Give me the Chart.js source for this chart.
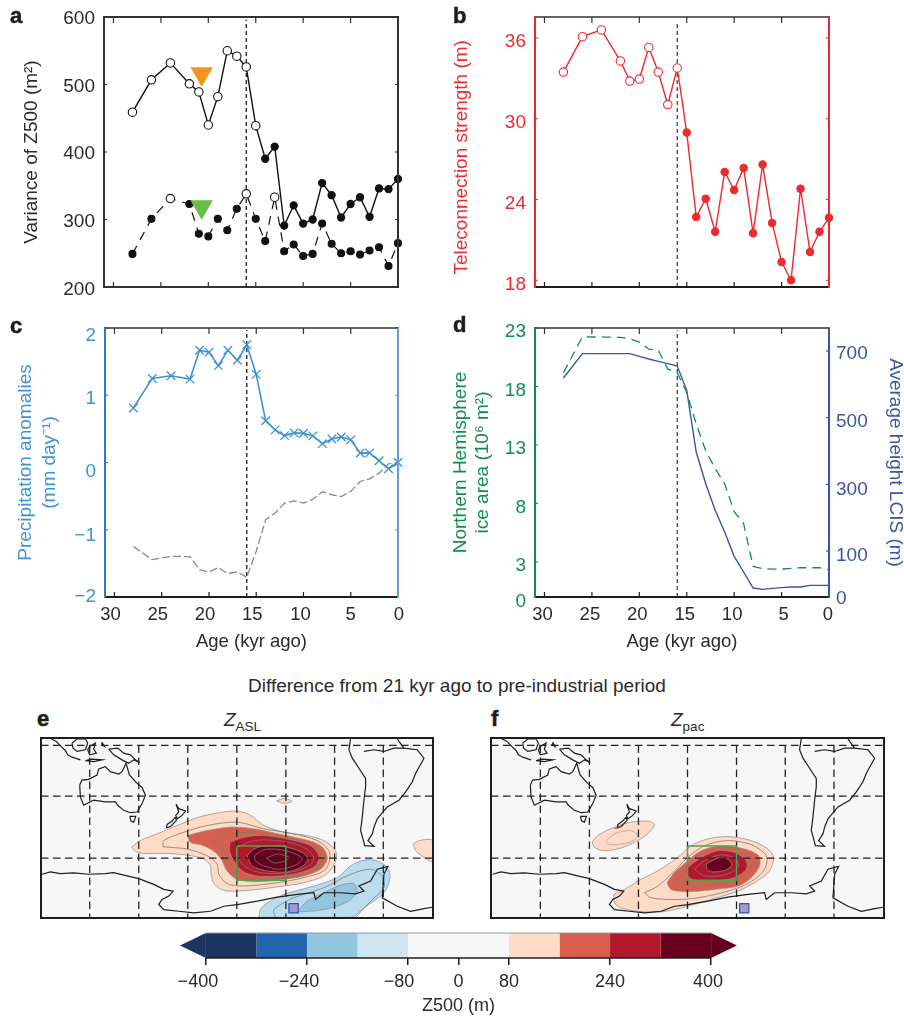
<!DOCTYPE html>
<html><head><meta charset="utf-8">
<script src="https://cdn.jsdelivr.net/npm/chart.js@4/dist/chart.umd.min.js"></script>
<style>
html,body{margin:0;padding:0;background:#fff;width:904px;height:1017px;overflow:hidden;font-family:"Liberation Sans",Arial,sans-serif;color:#2b2a29}
canvas{position:absolute;display:block}
.t{position:absolute;white-space:nowrap;line-height:1}
.l{font-weight:bold;font-size:22px;color:#1d1d1b;-webkit-text-stroke:.5px #1d1d1b}
sub{font-size:13.5px;vertical-align:-5px;line-height:0;font-style:normal}
</style></head><body>
<canvas id="a" width="452" height="315" style="left:0;top:-5px"></canvas>
<canvas id="b" width="464" height="315" style="left:440px;top:-5px"></canvas>
<canvas id="c" width="452" height="354" style="left:0;top:306px"></canvas>
<canvas id="d" width="474" height="354" style="left:440px;top:306px"></canvas>
<canvas id="e" width="396" height="184" style="left:39px;top:736px"></canvas>
<canvas id="f" width="397" height="184" style="left:489px;top:736px"></canvas>
<canvas id="cb" width="620" height="92" style="left:150px;top:925px"></canvas>
<div class="t l" style="left:10px;top:5px">a</div>
<div class="t l" style="left:453px;top:5px">b</div>
<div class="t l" style="left:10px;top:315px">c</div>
<div class="t l" style="left:453px;top:314px">d</div>
<div class="t l" style="left:37px;top:708px">e</div>
<div class="t l" style="left:491px;top:708px">f</div>
<div class="t" id="head" style="left:248px;top:676px;font-size:19px">Difference from 21 kyr ago to pre-industrial period</div>
<div class="t" style="left:224px;top:710px;font-size:19px"><i>Z</i><sub>ASL</sub></div>
<div class="t" style="left:671px;top:710px;font-size:19px"><i>Z</i><sub>pac</sub></div>
<script>
// ---------- time-series values ----------
const ages=[28,26,24,22,21,20,19,18,17,16,15,14,13,12,11,10,9,8,7,6,5,4,3,2,1,0];
const ageTicks=[30,25,20,15,10,5,0];
const eventAge=16;
const varAsl=[459,507,532,501,489,440,482,550,542,526,439,390,408,291,321,294,300,354,336,303,323,333,304,346,345,360];
const varPac=[249,301,331,323,279,275,301,284,316,338,301,268,333,253,263,246,249,294,264,250,253,248,254,259,231,265];
const varAslOpen=[1,1,1,1,1,1,1,1,1,1,1,0,0,0,0,0,0,0,0,0,0,0,0,0,0,0];
const varPacOpen=[0,0,1,0,0,0,0,0,0,1,0,0,1,0,0,0,0,0,0,0,0,0,0,0,0,0];
const markerAge=[20.7];
const markerAsl=[516];
const markerPac=[319];
const telecon=[33.47,36.1,36.6,34.3,32.8,32.95,35.3,33.47,31.05,33.77,28.97,22.7,24.06,21.6,26.05,24.7,26.35,21.5,26.6,22.26,19.36,18,24.8,20.1,21.6,22.65];
const teleconOpen=[1,1,1,1,1,1,1,1,1,1,0,0,0,0,0,0,0,0,0,0,0,0,0,0,0,0];
const precip=[.81,1.25,1.29,1.24,1.67,1.64,1.44,1.67,1.52,1.75,1.31,.62,.485,.40,.44,.435,.396,.28,.35,.38,.337,.14,.143,.025,-.094,0];
const precipGray=[-1.25,-1.445,-1.396,-1.40,-1.594,-1.63,-1.56,-1.654,-1.624,-1.708,-1.32,-.85,-.752,-.604,-.57,-.604,-.545,-.436,-.48,-.505,-.43,-.282,-.243,-.158,-.02,0];
const iceArea=[19.17,22.25,22.2,22.08,21.8,21.2,21.08,19.5,19.17,17.5,14.8,12.5,10.97,9.69,7.3,6.27,2.62,2.42,2.39,2.39,2.45,2.5,2.5,2.5,2.34];
const iceAges=[28,26,22,21,20,19,18,17,16,15,14,13,12,11,10,9,8,7,6,5,4,3,2,1,0];
const lcis=[619,692,692,692,692,684,676,669,662,655,582,397,302,222,157,84,37,-11,-15,-12,-10,-8,-8,-3,-3,-3];
const ticksA=[600,500,400,300,200];
const ticksB=[36,30,24,18];
const ticksC=[2,1,0,-1,-2];
const ticksD=[23,18,13,8,3,0];
const ticksD2=[700,500,300,100,0];

// ---------- colour bar ----------
const cbEdges=[-400,-320,-240,-160,-80,80,160,240,320,400];
const cbColors=['#1b3460','#2166ac','#92c5de','#d1e5f0','#f7f7f7','#fddbc7','#d6604d','#b2182b','#67001f'];
const cbTicks=[-400,-240,-80,0,80,240,400];

// ---------- maps (digitised map units) ----------
const mapGridX=[178,325,472,619,766,912,1058];
const mapGridY=[137,288,472];
const coastSumatra=[[62,117],[78,125],[92,140],[105,152],[112,165],[125,172],[150,180]];
const coastBorneo=[[125,130],[140,118],[165,118],[172,130],[165,150],[140,155],[128,145],[125,130]];
const coastSulawesi=[[178,140],[195,130],[190,148],[198,160],[178,165],[172,150],[178,140]];
const coastJava=[[165,182],[185,178],[215,180],[190,185],[165,182]];
const coastMoluccas=[[215,128],[222,140],[214,135],[215,128]];
const coastGuinea=[[235,148],[262,145],[280,160],[300,165],[315,180],[328,188],[310,180],[295,190],[275,180],[250,165],[235,148]];
const coastAustralia=[[148,255],[155,240],[175,238],[200,225],[205,207],[225,200],[240,215],[265,222],[275,215],[287,190],[297,225],[320,250],[335,262],[345,285],[335,310],[320,335],[300,337],[280,330],[262,315],[255,305],[225,305],[190,300],[160,315],[150,290],[148,255]];
const coastTasmania=[[298,348],[316,348],[310,365],[302,362],[298,348]];
const coastNZNorth=[[437,312],[445,325],[465,332],[455,345],[440,355],[436,345],[445,335],[437,312]];
const coastNZSouth=[[435,350],[438,360],[420,378],[408,382],[410,372],[425,362],[435,350]];
const coastSouthAm=[[960,117],[955,150],[965,175],[985,205],[1005,235],[1005,260],[1000,300],[995,350],[990,390],[1000,425],[1002,435],[1030,437],[1012,420],[1025,400],[1030,380],[1040,355],[1070,320],[1105,300],[1125,275],[1145,245],[1155,220],[1180,175],[1160,150],[1120,145],[1105,125],[1100,117]];
const coastAmazon=[[1000,155],[1030,150],[1060,155],[1090,145],[1120,145]];
const coastAntarctica=[[35,520],[60,513],[90,518],[130,516],[175,520],[225,518],[250,515],[290,525],[325,533],[370,550],[400,565],[428,570],[415,585],[395,595],[385,610],[400,625],[445,630],[490,635],[540,630],[580,615],[620,610],[680,600],[740,588],[800,580],[850,575],[855,595],[880,575],[930,575],[975,578],[1000,570],[985,555],[1020,540],[1040,505],[1072,497],[1060,520],[1055,590],[1100,615],[1140,630],[1180,622],[1205,618]];
const coasts=[coastSumatra,coastBorneo,coastSulawesi,coastJava,coastMoluccas,coastGuinea,coastAustralia,coastTasmania,coastNZNorth,coastNZSouth,coastSouthAm,coastAmazon,coastAntarctica];

const eBand1=[[303,440],[330,420],[380,400],[440,375],[500,352],[560,338],[620,332],[660,345],[700,375],[760,395],[830,405],[880,420],[912,445],[918,470],[905,500],[880,525],[820,545],[760,555],[680,565],[620,570],[580,568],[552,550],[542,520],[540,495],[520,475],[470,463],[400,458],[340,458],[315,452],[303,440]];
const eBand2=[[472,405],[520,392],[600,380],[670,385],[720,395],[790,410],[850,425],[880,445],[890,475],[870,505],[820,525],[760,535],[680,542],[620,535],[590,510],[575,480],[555,455],[520,435],[480,425],[472,405]];
const eBand3=[[598,425],[640,410],[700,405],[770,415],[840,435],[865,465],[855,495],[810,515],[750,525],[680,525],[635,510],[610,480],[597,450],[598,425]];
const eBand4=[[650,465],[670,445],[710,435],[770,440],[815,455],[832,475],[815,497],[770,513],[710,510],[665,495],[650,465]];
const eRing1=[[398,438],[400,420],[460,395],[530,375],[620,365],[700,385],[790,400],[860,420],[895,450],[897,480],[880,510],[820,530],[740,545],[640,555],[590,548],[565,520],[560,490],[530,465],[470,445],[420,440],[398,438]];
const eRing2=[[545,422],[580,405],[650,395],[720,405],[800,420],[860,445],[875,475],[855,505],[800,525],[720,535],[660,535],[620,520],[600,490],[585,460],[560,435],[545,422]];
const eRing3=[[620,440],[670,420],[740,420],[810,435],[848,465],[840,492],[790,512],[720,518],[670,510],[635,490],[620,460],[620,440]];
const eRing4=[[672,465],[700,447],[750,447],[800,462],[815,476],[790,495],[745,505],[700,495],[675,480],[672,465]];
const eRing5=[[708,472],[740,460],[775,470],[760,482],[730,486],[708,472]];
const ePatchTop=[[738,302],[760,295],[785,303],[760,309],[738,302]];
const ePatchRight=[[1148,430],[1165,420],[1206,420],[1206,482],[1180,470],[1155,450],[1148,430]];
const eBlue1=[[685,648],[690,625],[710,605],[760,580],[850,555],[920,530],[960,495],[1000,478],[1040,480],[1070,500],[1078,530],[1060,575],[1000,620],[960,648],[685,648]];
const eBlue2=[[800,632],[830,600],[880,575],[930,552],[970,548],[980,570],[960,595],[920,615],[860,628],[800,632]];
const eBlueRing=[[735,648],[730,625],[790,590],[880,560],[960,520],[1020,505],[1055,525],[1060,560],[1020,600],[975,648]];

const fBand1=[[398,580],[430,565],[480,535],[530,510],[590,470],[630,435],[680,415],[740,408],[810,420],[860,445],[877,470],[865,510],[820,545],[770,570],[700,592],[620,615],[540,632],[470,630],[420,620],[400,605],[398,580]];
const fBand2=[[558,545],[580,515],[620,480],[660,450],[720,435],[790,445],[832,465],[835,495],[810,530],[770,555],[700,565],[620,572],[570,565],[558,545]];
const fBand3=[[620,500],[660,470],[710,450],[760,455],[795,480],[795,505],[760,530],[700,540],[640,538],[620,525],[620,500]];
const fBand4=[[675,490],[710,472],[735,473],[752,490],[735,507],[695,513],[678,505],[675,490]];
const fRing1=[[490,575],[530,555],[570,520],[620,470],[670,435],[740,420],[810,432],[855,465],[850,505],[805,545],[740,570],[650,590],[580,595],[510,590],[490,575]];
const fRing2=[[585,540],[620,500],[670,465],[730,450],[780,460],[815,480],[800,515],[760,540],[690,552],[620,555],[585,540]];
const fRing3=[[640,505],[670,480],[720,462],[765,475],[770,500],[730,522],[670,525],[640,505]];
const fNZ=[[333,425],[350,405],[400,380],[450,365],[500,362],[520,372],[505,395],[470,420],[420,442],[370,450],[340,440],[333,425]];
const fNZRing=[[375,420],[400,400],[440,390],[462,395],[468,410],[445,425],[405,432],[380,430],[375,420]];
const targetBox=[[619,436],[766,436],[766,538],[619,538],[619,436]];
const lcisSiteBox=[[775,607],[803,607],[803,635],[775,635],[775,607]];

// ---------- styles ----------
const FONT='"Liberation Sans",Arial,sans-serif';
const INK='#2b2a29', RED='#ee2a2e', BLUE='#3f92d2', GREEN='#0f8f4e', NAVY='#3b55a5';
const TICKPX=19, TITLEPX=19, AGEPX=18.5;
Chart.defaults.font.family=FONT;
Chart.defaults.animation=false;

const framePlugin={id:'frame',
  beforeDraw(chart,args,o){
    for(const [id,shift] of Object.entries(o.shifts||{})){
      const s=chart.scales[id]; if(!s) continue;
      s.getLabelItems(chart.chartArea).forEach((it,i)=>{
        if(it._m) return; it._m=1;
        it.options.translation[0]+=shift[0][i]||0;
        it.options.translation[1]+=shift[1][i]||0;
      });
    }
  },
  afterDraw(chart,args,o){
    if(!o.left) return;
    const {left,right,top,bottom}=chart.chartArea, c=chart.ctx;
    const seg=(x0,y0,x1,y1,col,w)=>{c.strokeStyle=col;c.lineWidth=w;c.beginPath();c.moveTo(x0,y0);c.lineTo(x1,y1);c.stroke();};
    c.save();
    chart.scales.x.ticks.forEach(t=>{const p=chart.scales.x.getPixelForValue(t.value);
      seg(p,top,p,top+6,o.top,1.2);seg(p,bottom,p,bottom-5,o.bottom,1.2);});
    chart.scales.y.ticks.forEach(t=>{const p=chart.scales.y.getPixelForValue(t.value);
      seg(left,p,left+3,p,o.left,1.1); if(!chart.scales.y2) seg(right,p,right-3,p,o.right,1.1);});
    if(chart.scales.y2) chart.scales.y2.ticks.forEach(t=>{ if(t.value===0) return; const p=chart.scales.y2.getPixelForValue(t.value);
      seg(right,p,right-3,p,o.right,1.2);});
    seg(left-1,top,right+1,top,o.top,o.topW||1.6);
    seg(left-1,bottom,right+1,bottom,o.bottom,2);
    seg(left,top,left,bottom+1,o.left,2);
    seg(right,top,right,bottom+1,o.right,2);
    c.restore();
  }
};
const mapFrame={id:'mapFrame',afterDraw(chart){
  const {left,right,top,bottom}=chart.chartArea,c=chart.ctx;
  c.save();c.strokeStyle='#1d1d1b';c.lineWidth=2;c.strokeRect(left,top,right-left,bottom-top);c.restore();}};

const pts=(xs,ys)=>xs.map((x,i)=>({x,y:ys[i]}));
function yScale(list,range,width,color,title,pos){
  return {type:'linear',position:pos||'left',min:range[0],max:range[1],
    afterBuildTicks:s=>{s.ticks=list.map(v=>({value:v}));},
    afterFit:s=>{s.width=width;},
    grid:{display:false,drawTicks:false},border:{display:false},
    ticks:{autoSkip:false,padding:pos==='right'?7:9,color,font:{size:TICKPX},callback:v=>String(v).replace('-','\u2212')},
    title};
}
function xScale(height,labels){
  return {type:'linear',min:0,max:31,reverse:true,
    afterBuildTicks:s=>{s.ticks=ageTicks.map(v=>({value:v}));},
    afterFit:s=>{s.height=height;},
    grid:{display:false,drawTicks:false},border:{display:false},
    ticks:{display:labels,autoSkip:false,maxRotation:0,padding:7,color:INK,font:{size:AGEPX}},
    title:{display:labels,text:'Age (kyr ago)',color:INK,font:{size:AGEPX},padding:{top:0,bottom:7}}};
}
const eventLine=(lo,hi,col)=>({data:pts([eventAge,eventAge],[lo,hi]),borderColor:col||'#1d1d1b',borderWidth:1.3,borderDash:[4,3],pointRadius:0,showLine:true});
function panel(id,pad,scales,datasets,frame){
  new Chart(document.getElementById(id),{type:'scatter',data:{datasets},
    options:{responsive:false,animation:false,devicePixelRatio:1,layout:{padding:pad},scales,
      plugins:{legend:{display:false},tooltip:{enabled:false},frame}},
    plugins:[framePlugin]});
}
const seriesStyle=(col,w,open,ro,rf)=>({borderColor:col,borderWidth:w,showLine:true,pointRadius:open.map(f=>f?ro:rf),pointBorderColor:col,pointBorderWidth:1.1,
  pointBackgroundColor:open.map(f=>f?'#fff':col),clip:false});

// panel a
panel('a',{left:0,right:54,top:22,bottom:0},
 {x:xScale(23,false),y:yScale(ticksA,[200,600],104,INK,{display:true,text:'Variance of Z500 (m\u00b2)',color:INK,font:{size:TITLEPX},padding:{top:20}})},
 [
  {data:pts(markerAge,markerAsl),showLine:false,pointStyle:'triangle',pointRotation:180,pointRadius:13,pointBackgroundColor:'#f7941e',pointBorderWidth:0},
  {data:pts(markerAge,markerPac),showLine:false,pointStyle:'triangle',pointRotation:180,pointRadius:13,pointBackgroundColor:'#6abd45',pointBorderWidth:0},
  {data:pts(ages,varAsl),...seriesStyle('#111',1.4,varAslOpen,4.2,3.6)},
  {data:pts(ages,varPac),...seriesStyle('#111',1.2,varPacOpen,4.2,3.5),borderDash:[9,7]},
  eventLine(200,596)
 ],{left:'#333',right:'#333',top:'#333',bottom:'#333',topW:2,
    shifts:{y:[[0,0,0,0,0],[2,2,2,2,3]]}});

// panel b
panel('b',{left:0,right:75,top:22,bottom:0},
 {x:xScale(23,false),y:yScale(ticksB,[17.5,37.56],95,RED,{display:true,text:'Teleconnection strength (m)\u00a0\u00a0',color:RED,font:{size:TITLEPX},padding:{top:10}})},
 [
  {data:pts(ages,telecon),...seriesStyle(RED,1.4,teleconOpen,4.2,3.7)},
  eventLine(17.5,37.2,'#444')
 ],{left:RED,right:RED,top:'#333',bottom:'#1d1d1b',topW:1.4,
    shifts:{y:[[0,0,0,0],[4,4,4,4]]}});

// panel c
panel('c',{left:0,right:54,top:22,bottom:0},
 {x:xScale(63,true),y:yScale(ticksC,[-2,2],105,BLUE,{display:true,text:['Precipitation anomalies','(mm day\u207b\u00b9)'],color:BLUE,font:{size:TITLEPX,lineHeight:1.26},padding:{top:14}})},
 [
  {data:pts(ages,precip),...seriesStyle(BLUE,1.6,ages.map(()=>0),6,6),pointStyle:'crossRot',pointBorderWidth:1.3},
  {data:pts(ages,precipGray),borderColor:'#8a8a8a',borderWidth:1.3,borderDash:[8,3],pointRadius:0,showLine:true},
  eventLine(-2,1.97)
 ],{left:'#2b7cc0',right:'#629fd8',top:'#333',bottom:'#1d1d1b',
    shifts:{x:[[-4,-4,-4,-4,-3,0,1],[0,0,0,0,0,0,0]],y:[[0,0,0,0,0],[8,4,9,6,0]]}});

// panel d
panel('d',{left:0,right:0,top:22,bottom:0},
 {x:xScale(63,true),
  y:yScale(ticksD,[0,23],95,GREEN,{display:true,text:['Northern Hemisphere','ice area (10\u2076 m\u00b2)'],color:GREEN,font:{size:TITLEPX,lineHeight:1.19},padding:{top:9}}),
  y2:yScale(ticksD2,[-38,769],85,NAVY,{display:true,text:'Average height LCIS (m)',color:NAVY,font:{size:TITLEPX},padding:{top:7}},'right')},
 [
  {data:pts(iceAges,iceArea),borderColor:GREEN,borderWidth:1.3,borderDash:[9,6],pointRadius:0,showLine:true,yAxisID:'y'},
  {data:pts(ages,lcis),borderColor:NAVY,borderWidth:1.4,pointRadius:0,showLine:true,yAxisID:'y2'},
  eventLine(0,22.8,'#444')
 ],{left:GREEN,right:NAVY,top:'#333',bottom:'#1d1d1b',
    shifts:{x:[[-2,-2,-2,-2,-2,2,-1],[0,0,0,0,0,0,0]],y:[[0,0,0,0,0,0],[4,4,4,4,4,5]],y2:[[0,0,0,0,0],[3,4,5,5,14]]}});

// maps
const CONTOUR='rgba(130,120,115,.8)';
const P=a=>a.map(([x,y])=>({x,y}));
const shape=(a,fill)=>({data:P(a),showLine:true,pointRadius:0,fill:'shape',backgroundColor:fill,borderColor:'rgba(150,140,135,.75)',borderWidth:1,tension:.3});
const ring=(a,col)=>({data:P(a),showLine:true,pointRadius:0,fill:false,borderColor:col||CONTOUR,borderWidth:1,tension:.3});
const coastDs=()=>coasts.map(a=>({data:P(a),showLine:true,pointRadius:0,fill:false,borderColor:'#1d1d1b',borderWidth:1.2,tension:0}));
const gridDs=(lo,hi)=>[
  ...mapGridX.map(x=>({data:P([[x,137],[x,650]]),showLine:true,pointRadius:0,borderColor:'#222',borderWidth:1.3,borderDash:[7.5,4.5]})),
  ...mapGridY.map(y=>({data:P([[lo,y],[hi,y]]),showLine:true,pointRadius:0,borderColor:'#222',borderWidth:1.3,borderDash:[7.5,4.5]}))];
const boxes=()=>[
  {data:P(targetBox),showLine:true,pointRadius:0,borderColor:'#55a24c',borderWidth:1.5},
  {data:P(lcisSiteBox),showLine:true,pointRadius:0,fill:'shape',backgroundColor:'#9a9ad5',borderColor:'#3a4fb0',borderWidth:1.2}];
function mapChart(id,xr,ds){
  new Chart(document.getElementById(id),{type:'scatter',
    data:{datasets:[...boxes(),...coastDs(),...gridDs(xr[0],xr[1]),...ds,
      {data:P([[xr[0],115],[xr[1],115],[xr[1],650],[xr[0],650],[xr[0],115]]),showLine:true,pointRadius:0,fill:'shape',backgroundColor:'#f7f7f7',borderWidth:0}]},
    options:{responsive:false,animation:false,devicePixelRatio:1,layout:{padding:{left:2,right:2,top:2,bottom:2}},
      scales:{x:{type:'linear',display:false,min:xr[0],max:xr[1]},y:{type:'linear',display:false,reverse:true,min:115,max:650}},
      plugins:{legend:{display:false},tooltip:{enabled:false}}},
    plugins:[mapFrame]});
}
mapChart('e',[32,1207],[
  ring(eRing5),ring(eRing4),shape(eBand4,'#67001f'),ring(eRing3),shape(eBand3,'#b2182b'),ring(eRing2),shape(eBand2,'#d6604d'),ring(eRing1),
  shape(eBand1,'#fddbc7'),shape(ePatchTop,'#fddbc7'),shape(ePatchRight,'#fddbc7'),
  ring(eBlueRing,'rgba(110,130,150,.8)'),shape(eBlue2,'#92c5de'),shape(eBlue1,'#bcdcee')]);
mapChart('f',[30,1208],[
  shape(fBand4,'#67001f'),ring(fRing3),shape(fBand3,'#b2182b'),ring(fRing2),shape(fBand2,'#d6604d'),ring(fRing1),shape(fBand1,'#fddbc7'),
  ring(fNZRing,'rgba(170,160,155,.8)'),shape(fNZ,'#fddbc7')]);

// colour bar
const cbDs=[];
cbColors.forEach((col,i)=>{const a=cbEdges[i],b=cbEdges[i+1];
  cbDs.push({data:P([[a,0],[b,0],[b,1],[a,1],[a,0]]),showLine:true,pointRadius:0,fill:'shape',backgroundColor:col,borderWidth:0});});
cbDs.push({data:P([[-400,0],[-441,.5],[-400,1],[-400,0]]),showLine:true,pointRadius:0,fill:'shape',backgroundColor:cbColors[0],borderWidth:0});
cbDs.push({data:P([[400,0],[441,.5],[400,1],[400,0]]),showLine:true,pointRadius:0,fill:'shape',backgroundColor:cbColors[8],borderWidth:0});
cbDs.unshift({data:P([[-400,1],[400,1]]),showLine:true,pointRadius:0,borderColor:'#999',borderWidth:1.2,clip:false});
new Chart(document.getElementById('cb'),{type:'scatter',data:{datasets:cbDs},
  options:{responsive:false,animation:false,devicePixelRatio:1,layout:{padding:{left:30,right:33,top:8,bottom:0}},
    scales:{
      x:{type:'linear',min:-441,max:441,
        afterBuildTicks:s=>{s.ticks=cbTicks.map(v=>({value:v}));},
        afterFit:s=>{s.height=59;},
        grid:{drawOnChartArea:false,drawTicks:true,tickLength:7,tickColor:'#1d1d1b',tickWidth:1.5,lineWidth:1.5},
        border:{display:false},
        ticks:{autoSkip:false,maxRotation:0,padding:6,color:INK,font:{size:18},callback:v=>String(v).replace('-','\u2212')},
        title:{display:true,text:'Z500 (m)',color:INK,font:{size:18},padding:{top:0,bottom:0}}},
      y:{type:'linear',display:false,min:0,max:1}},
    plugins:{legend:{display:false},tooltip:{enabled:false},
      frame:{shifts:{x:[[-8,-8,-9,0,0,0,-3],[0,0,0,0,0,0,0]]}}}},
  plugins:[framePlugin,{id:'cbBase',afterDraw(ch){const {bottom}=ch.chartArea,x=ch.scales.x,c=ch.ctx;
    c.save();c.strokeStyle='#1d1d1b';c.lineWidth=1.5;c.beginPath();c.moveTo(x.getPixelForValue(-400),bottom);c.lineTo(x.getPixelForValue(400),bottom);c.stroke();c.restore();}}]});
</script>
</body></html>
